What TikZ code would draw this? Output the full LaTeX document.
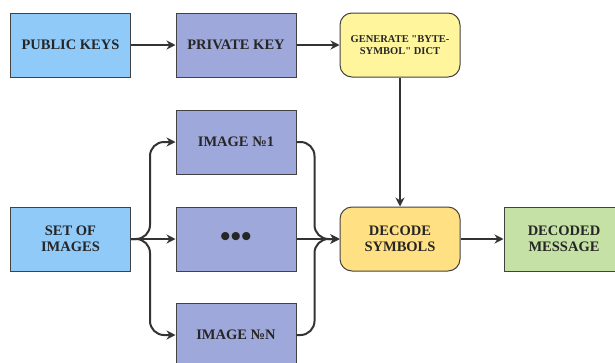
\documentclass[tikz,border=0pt]{standalone}
\usepackage{fontspec}
\setmainfont{Liberation Serif}[Ligatures=TeXOff]
\usetikzlibrary{arrows.meta}
\definecolor{cblue}{HTML}{90CAF9}
\definecolor{cpurple}{HTML}{9FA8DA}
\definecolor{cyellow}{HTML}{FFF59D}
\definecolor{camber}{HTML}{FFE082}
\definecolor{cgreen}{HTML}{C5E1A5}
\definecolor{cborder}{HTML}{424242}
\definecolor{carrow}{HTML}{333333}
\tikzset{
  box/.style={draw=cborder, line width=1pt, minimum width=120pt, minimum height=64pt,
    inner sep=2pt, align=center, font=\fontsize{14.5}{15.5}\selectfont\bfseries, text=black!85},
  rbox/.style={box, rounded corners=12pt},
  conn/.style={draw=carrow, line width=2pt, -{Stealth[length=9pt,width=9pt]}},
  curved/.style={conn, rounded corners=14pt},
}
\begin{document}
\begin{tikzpicture}[x=1pt,y=-1pt]
\useasboundingbox (0,0) rectangle (615,362);
\clip (0,0) rectangle (615,362);
\fill[white] (0,0) rectangle (615,362);
\node[box, fill=cblue] (pub) at (70.5,45) {PUBLIC KEYS};
\node[box, fill=cpurple] (priv) at (236,45) {PRIVATE KEY};
\node[rbox, fill=cyellow, font=\fontsize{10.5}{12}\selectfont\bfseries] (gen) at (400,45) {GENERATE "BYTE-\\SYMBOL" DICT};
\node[box, fill=cpurple] (img1) at (236,142) {IMAGE №1};
\node[box, fill=cpurple, font=\fontsize{30}{30}\selectfont\bfseries] (dots) at (236,239) {•••};
\node[box, fill=cpurple] (imgn) at (236,335) {IMAGE №N};
\node[box, fill=cblue] (set) at (70.5,239) {SET OF\\IMAGES};
\node[rbox, fill=camber] (dec) at (400,239) {DECODE\\SYMBOLS};
\node[box, fill=cgreen] (msg) at (564,239) {DECODED\\MESSAGE};
\draw[conn] (pub) -- (priv);
\draw[conn] (priv) -- (gen);
\draw[conn] (gen) -- (dec);
\draw[conn] (dec) -- (msg);
\draw[curved] (set.east) -- ++(19,0) |- (img1.west);
\draw[conn] (set) -- (dots);
\draw[curved] (set.east) -- ++(19,0) |- (imgn.west);
\draw[curved] (img1.east) -- ++(18,0) |- (dec.west);
\draw[conn] (dots) -- (dec);
\draw[curved] (imgn.east) -- ++(18,0) |- (dec.west);
\end{tikzpicture}
\end{document}
